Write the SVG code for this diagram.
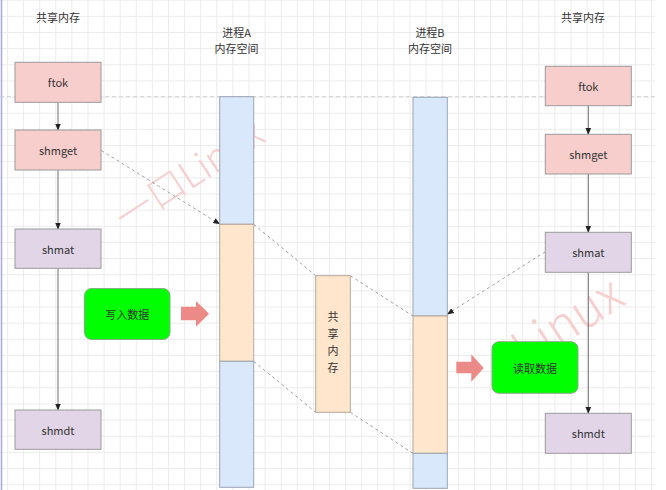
<svg xmlns="http://www.w3.org/2000/svg" width="666" height="490" viewBox="0 0 666 490">
<defs>
<pattern id="grid" patternUnits="userSpaceOnUse" x="7" y="-0.3" width="16.1" height="16.15">
<path d="M0.5 0V16.15M0 0.5H16.1" fill="none" stroke="#ebebeb" stroke-width="1"/>
</pattern>
<marker id="ah" viewBox="0 0 10 10" refX="9" refY="5" markerWidth="7" markerHeight="7" markerUnits="userSpaceOnUse" orient="auto">
<path d="M0 1L10 5L0 9Z" fill="#222"/>
</marker>
<style>
text{font-family:"Noto Sans CJK SC","Liberation Sans",sans-serif;font-size:11px;fill:#333;text-anchor:middle;dominant-baseline:central}
.pink{fill:#f8cecc;stroke:#9a9a9a;stroke-width:1}
.purple{fill:#e1d5e7;stroke:#9a9a9a;stroke-width:1}
.blue{fill:#dae8fc;stroke:#9aa4b4;stroke-width:1}
.orange{fill:#ffe6cc;stroke:#b4a898;stroke-width:1}
.green{fill:#00ff00;stroke:#8aaa8a;stroke-width:1}
.solid{fill:none;stroke:#707070;stroke-width:1}
.dash{fill:none;stroke:#8a8a8a;stroke-width:0.8;stroke-dasharray:3 3}
.bigarrow{fill:#ec8a88}
.wm{fill:#f7cfcf;text-anchor:start;dominant-baseline:alphabetic;font-weight:300;font-family:"Noto Sans CJK SC","Liberation Sans",sans-serif}
</style>
</defs>
<rect width="666" height="490" fill="#ffffff"/>
<rect x="0" y="0" width="655" height="490" fill="url(#grid)"/>
<line x1="1.5" y1="0" x2="1.5" y2="490" stroke="#a8a8e8" stroke-width="1.5"/>
<line x1="0" y1="96.7" x2="655" y2="96.7" stroke="#c8c8c8" stroke-width="0.8" stroke-dasharray="4 3"/>

<g id="watermarks">
<text class="wm" style="font-size:38px" transform="translate(126,232) rotate(-33)">一口Linux</text>
<text class="wm" style="font-size:50px" transform="translate(526,369) rotate(-33)">Linux</text>
</g>

<g id="titles">
<text x="58" y="17">共享内存</text>
<text x="236.5" y="32">进程A</text>
<text x="236.5" y="48">内存空间</text>
<text x="430" y="32">进程B</text>
<text x="430" y="48">内存空间</text>
<text x="583" y="17">共享内存</text>
</g>

<g id="connectors">
<line class="solid" x1="58" y1="102.3" x2="58" y2="130" marker-end="url(#ah)"/>
<line class="solid" x1="58" y1="170" x2="58" y2="229" marker-end="url(#ah)"/>
<line class="solid" x1="58" y1="268.3" x2="58" y2="410" marker-end="url(#ah)"/>
<line class="solid" x1="588.3" y1="105.7" x2="588.3" y2="134.3" marker-end="url(#ah)"/>
<line class="solid" x1="588.3" y1="174" x2="588.3" y2="232.3" marker-end="url(#ah)"/>
<line class="solid" x1="588.3" y1="272.3" x2="588.3" y2="413.3" marker-end="url(#ah)"/>
<line class="dash" x1="101.3" y1="150.5" x2="219.5" y2="224" marker-end="url(#ah)"/>
<line class="dash" x1="545.3" y1="251.7" x2="447.5" y2="314" marker-end="url(#ah)"/>
<line class="dash" x1="253.7" y1="224.3" x2="315.7" y2="275.7"/>
<line class="dash" x1="253.7" y1="361.3" x2="315.7" y2="412.3"/>
<line class="dash" x1="350.3" y1="275.7" x2="413" y2="316"/>
<line class="dash" x1="350.3" y1="412.3" x2="413" y2="453.3"/>
</g>

<g id="left-ftok"><rect class="pink" x="15" y="62.3" width="86" height="40"/><text x="58" y="82.3">ftok</text></g>
<g id="left-shmget"><rect class="pink" x="15" y="130" width="86" height="40"/><text x="58" y="150">shmget</text></g>
<g id="left-shmat"><rect class="purple" x="15" y="229" width="86" height="39.3"/><text x="58" y="249">shmat</text></g>
<g id="left-shmdt"><rect class="purple" x="15" y="410" width="86" height="39.3"/><text x="58" y="430">shmdt</text></g>

<g id="write-data"><rect class="green" x="84.5" y="288.5" width="85.5" height="51" rx="7"/><text x="127.3" y="314">写入数据</text></g>
<g id="arrow-write"><path class="bigarrow" d="M181 306.7H196V301L209 313.7L196 326.7V320.3H181Z"/></g>

<g id="procA">
<rect class="blue" x="219.7" y="96.7" width="34" height="127.6"/>
<rect class="orange" x="219.7" y="224.3" width="34" height="137"/>
<rect class="blue" x="219.7" y="361.3" width="34" height="126"/>
</g>

<g id="shared-mem">
<rect class="orange" x="315.7" y="275.7" width="34.6" height="136.6"/>
<text x="333" y="316">共</text>
<text x="333" y="333.3">享</text>
<text x="333" y="350">内</text>
<text x="333" y="366.7">存</text>
</g>

<g id="procB">
<rect class="blue" x="413" y="97.3" width="34.3" height="218.7"/>
<rect class="orange" x="413" y="316" width="34.3" height="137.3"/>
<rect class="blue" x="413" y="453.3" width="34.3" height="35"/>
</g>

<g id="arrow-read"><path class="bigarrow" d="M456.3 361.7H471.3V354.3L483.7 368L471.3 381.7V373.3H456.3Z"/></g>
<g id="read-data"><rect class="green" x="492" y="341.7" width="86" height="51.6" rx="7"/><text x="535" y="367.5">读取数据</text></g>

<g id="right-ftok"><rect class="pink" x="545.3" y="66.3" width="86" height="39.4"/><text x="588.3" y="86">ftok</text></g>
<g id="right-shmget"><rect class="pink" x="545.3" y="134.3" width="86" height="39.7"/><text x="588.3" y="154.2">shmget</text></g>
<g id="right-shmat"><rect class="purple" x="545.3" y="232.3" width="86" height="40"/><text x="588.3" y="252.3">shmat</text></g>
<g id="right-shmdt"><rect class="purple" x="545.3" y="413.3" width="86" height="40"/><text x="588.3" y="433.3">shmdt</text></g>
</svg>
